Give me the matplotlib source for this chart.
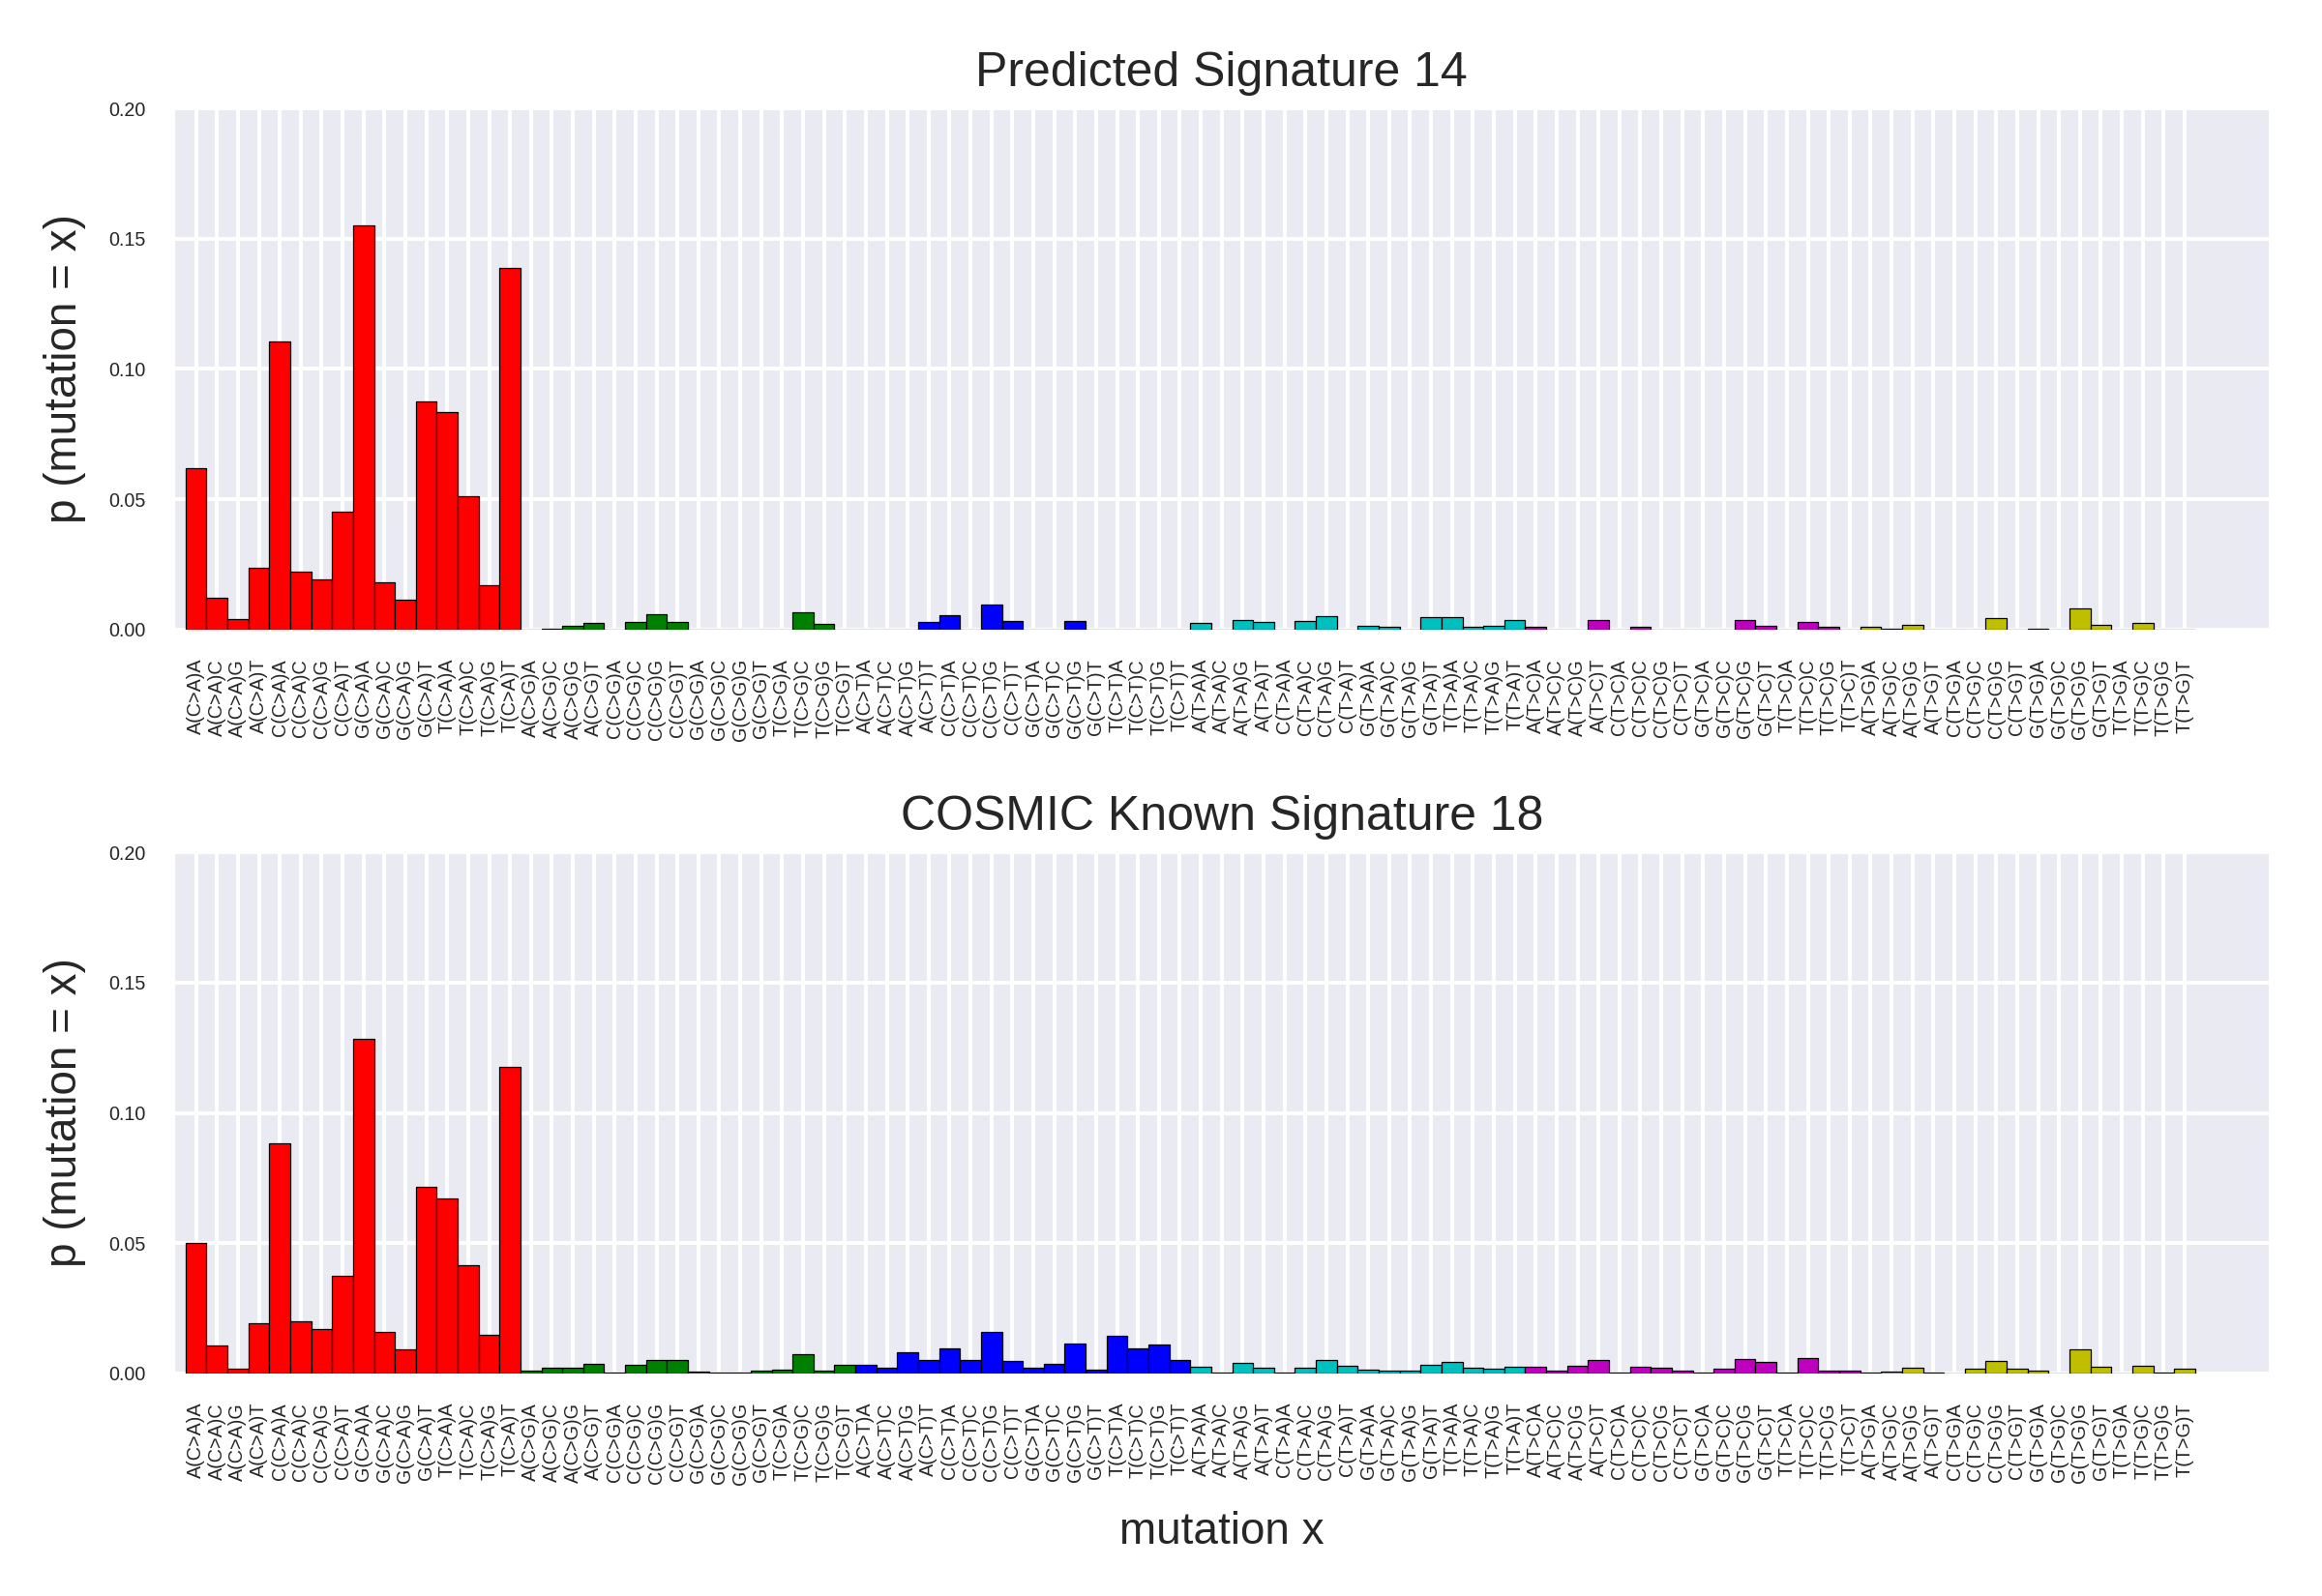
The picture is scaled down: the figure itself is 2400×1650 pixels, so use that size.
import matplotlib
matplotlib.use('Agg')
import matplotlib.pyplot as plt
import numpy as np

plt.rcParams['font.family'] = ['Liberation Sans', 'DejaVu Sans']

substitutions = ['C>A', 'C>G', 'C>T', 'T>A', 'T>C', 'T>G']
bases = ['A', 'C', 'G', 'T']
group_colors = ['r', 'g', 'b', 'c', 'm', 'y']

labels = [f'{a}({s}){b}' for s in substitutions for a in bases for b in bases]

predicted = [
    # C>A
    0.0620, 0.0122, 0.0040, 0.0236, 0.1106, 0.0222, 0.0193, 0.0452,
    0.1552, 0.0182, 0.0114, 0.0877, 0.0833, 0.0511, 0.0172, 0.1386,
    # C>G
    0.0000, 0.0005, 0.0016, 0.0025, 0.0000, 0.0028, 0.0058, 0.0028,
    0.0000, 0.0000, 0.0000, 0.0000, 0.0000, 0.0065, 0.0021, 0.0000,
    # C>T
    0.0001, 0.0000, 0.0000, 0.0028, 0.0054, 0.0000, 0.0095, 0.0032,
    0.0000, 0.0000, 0.0032, 0.0000, 0.0000, 0.0000, 0.0000, 0.0000,
    # T>A
    0.0025, 0.0000, 0.0036, 0.0028, 0.0000, 0.0032, 0.0053, 0.0000,
    0.0016, 0.0012, 0.0000, 0.0049, 0.0049, 0.0012, 0.0016, 0.0038,
    # T>C
    0.0012, 0.0000, 0.0000, 0.0038, 0.0000, 0.0009, 0.0000, 0.0000,
    0.0000, 0.0000, 0.0038, 0.0016, 0.0000, 0.0028, 0.0009, 0.0000,
    # T>G
    0.0009, 0.0005, 0.0020, 0.0000, 0.0000, 0.0000, 0.0046, 0.0000,
    0.0002, 0.0000, 0.0082, 0.0020, 0.0000, 0.0025, 0.0000, 0.0000,
]

cosmic = [
    # C>A
    0.0500, 0.0108, 0.0019, 0.0194, 0.0883, 0.0200, 0.0170, 0.0376,
    0.1285, 0.0160, 0.0091, 0.0718, 0.0672, 0.0416, 0.0148, 0.1178,
    # C>G
    0.0012, 0.0023, 0.0023, 0.0038, 0.0002, 0.0034, 0.0053, 0.0053,
    0.0009, 0.0005, 0.0005, 0.0012, 0.0016, 0.0075, 0.0012, 0.0034,
    # C>T
    0.0034, 0.0023, 0.0082, 0.0053, 0.0097, 0.0053, 0.0160, 0.0049,
    0.0023, 0.0038, 0.0116, 0.0016, 0.0145, 0.0097, 0.0112, 0.0053,
    # T>A
    0.0027, 0.0005, 0.0042, 0.0023, 0.0002, 0.0023, 0.0053, 0.0031,
    0.0016, 0.0012, 0.0012, 0.0034, 0.0046, 0.0023, 0.0020, 0.0027,
    # T>C
    0.0027, 0.0012, 0.0031, 0.0053, 0.0002, 0.0027, 0.0023, 0.0012,
    0.0005, 0.0020, 0.0057, 0.0046, 0.0002, 0.0060, 0.0012, 0.0012,
    # T>G
    0.0002, 0.0009, 0.0023, 0.0002, 0.0000, 0.0020, 0.0049, 0.0020,
    0.0012, 0.0000, 0.0093, 0.0027, 0.0000, 0.0031, 0.0005, 0.0020,
]

titles = ['Predicted Signature 14', 'COSMIC Known Signature 18']
yticks = [0.00, 0.05, 0.10, 0.15, 0.20]
ytick_labels = ['0.00', '0.05', '0.10', '0.15', '0.20']

colors = [c for c in group_colors for _ in range(16)]
x = np.arange(len(labels))
text_color = '#262626'

fig = plt.figure(figsize=(16, 11), dpi=150)
ax1 = fig.add_axes([0.0754, 0.6055, 0.9015, 0.3266])
ax2 = fig.add_axes([0.0754, 0.1394, 0.9015, 0.3266])

for ax, vals, title in [(ax1, predicted, titles[0]), (ax2, cosmic, titles[1])]:
    ax.set_facecolor('#EAEAF2')
    ax.set_axisbelow(True)
    ax.grid(True, color='white', linewidth=1.9)
    for sp in ax.spines.values():
        sp.set_visible(False)
    ax.bar(x, vals, width=1.0, color=colors, edgecolor='black', linewidth=0.6)
    ax.set_xlim(-1, 99)
    ax.set_ylim(0, 0.2)
    ax.set_xticks(x)
    ax.set_xticklabels(labels, rotation=90, fontsize=9.5)
    ax.set_yticks(yticks)
    ax.set_yticklabels(ytick_labels, fontsize=9.5)
    ax.tick_params(length=0, pad=14.4, colors=text_color)
    ax.set_title(title, fontsize=24, color=text_color, pad=11)
    ax.set_ylabel('p (mutation = x)', fontsize=22, color=text_color)
    ax.yaxis.set_label_coords(-0.0425, 0.5)

ax2.set_xlabel('mutation x', fontsize=22, color=text_color)
ax2.xaxis.set_label_coords(0.5, -0.263)

fig.savefig('out.png', dpi=150)
